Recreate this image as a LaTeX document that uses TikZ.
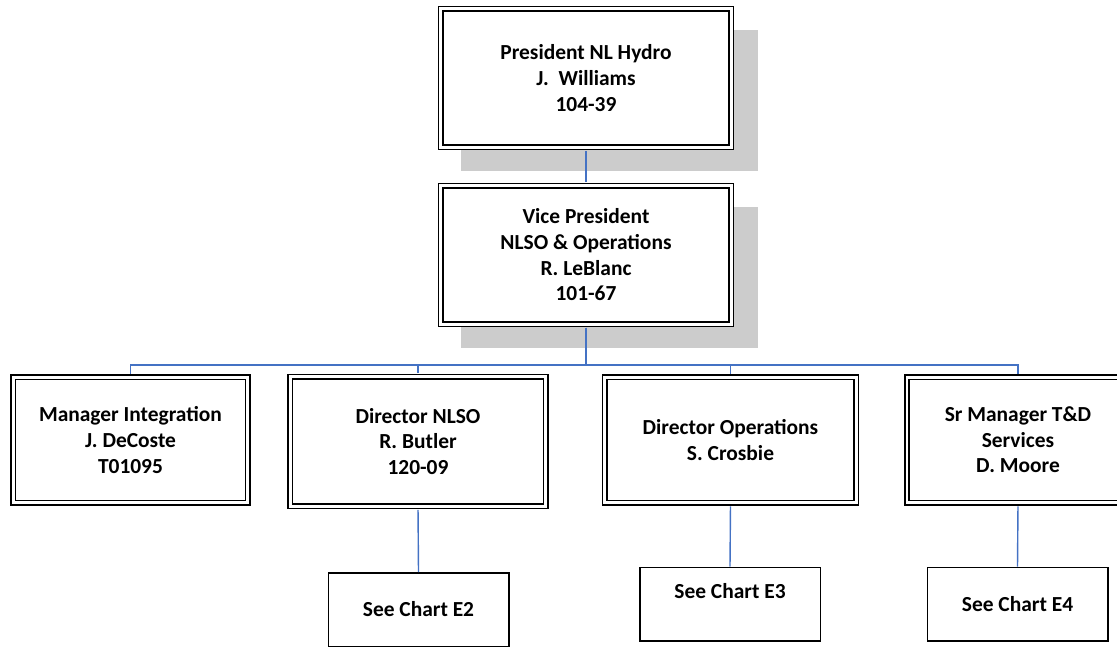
\documentclass[tikz,border=0pt]{standalone}
\usepackage{fontspec}
\setmainfont{Carlito}
\usetikzlibrary{positioning,shadows}
\definecolor{linkblue}{RGB}{68,114,196}
\definecolor{shadowgray}{RGB}{204,204,204}

\begin{document}
\begin{tikzpicture}[
    line width=0.85pt,
    % --- box styles ---
    dbox/.style={draw, double, double distance=1.5pt, fill=white, align=center,
                 font=\fontsize{12.2}{14.6}\selectfont\bfseries, inner sep=2pt},
    sbox/.style={draw, fill=white, align=center, minimum width=3.61cm, minimum height=1.47cm,
                 font=\fontsize{12.2}{14.6}\selectfont\bfseries, inner sep=2pt},
    % --- shadow style ---
    shad/.style={drop shadow={shadow xshift=0.46cm, shadow yshift=-0.44cm, shadow scale=1.02,
                 fill=shadowgray, opacity=1}},
    % --- connector styles ---
    link/.style={draw=linkblue, line width=0.8pt, shorten <=1.6pt, shorten >=1.6pt},
    sublink/.style={link, shorten >=0pt},
]

%% =====================================================================
%%  FRAME: 1 px of the chart = 0.02 cm
%% =====================================================================
\clip (0,0) rectangle (22.34,-12.92);

%% ---- TOP LEVEL ----
\node[dbox, shad, minimum width=5.81cm, minimum height=2.77cm] (pres) at (11.72,-1.56)
    {President NL Hydro\\J.\ \ Williams\\104-39};
\node[dbox, shad, minimum width=5.81cm, minimum height=2.77cm] (vp) at (11.72,-5.10)
    {Vice President\\NLSO \& Operations\\R. LeBlanc\\101-67};

%% ---- SECOND LEVEL ----
\node[dbox, minimum width=4.69cm, minimum height=2.51cm] (integ) at ( 2.61,-8.80)
    {Manager Integration\\J. DeCoste\\T01095};
\node[dbox, minimum width=5.11cm, minimum height=2.59cm] (nlso) at ( 8.36,-8.83)
    {Director NLSO\\R. Butler\\120-09};
\node[dbox, minimum width=5.03cm, minimum height=2.51cm] (ops) at (14.61,-8.80)
    {Director Operations\\S. Crosbie};
\node[dbox, minimum width=4.44cm, minimum height=2.51cm] (tds) at (20.36,-8.80)
    {Sr Manager T\&D\\Services\\D. Moore};

%% ---- CHART REFERENCES ----
\node[sbox] (e2) at ( 8.37,-12.19) {See Chart E2};
\node[sbox] (e3) at (14.60,-12.08) {See Chart E3\\~};
\node[sbox] (e4) at (20.35,-12.08) {See Chart E4};

%% =====================================================================
%%  CONNECTORS
%% =====================================================================
\coordinate (bus) at ([yshift=-0.80cm]vp.south);

\draw[link] (pres.south) -- (vp.north);

%% --- VP -> second level (bus) ---
\draw[link] (vp.south) -- (bus) -| (integ.north);
\draw[link] (vp.south) -- (bus) -| (nlso.north);
\draw[link] (vp.south) -- (bus) -| (ops.north);
\draw[link] (vp.south) -- (bus) -| (tds.north);

%% --- second level -> charts ---
\draw[sublink] (nlso.south) -- (e2.north);
\draw[sublink] (ops.south) -- (e3.north);
\draw[sublink] (tds.south) -- (e4.north);

\end{tikzpicture}
\end{document}
